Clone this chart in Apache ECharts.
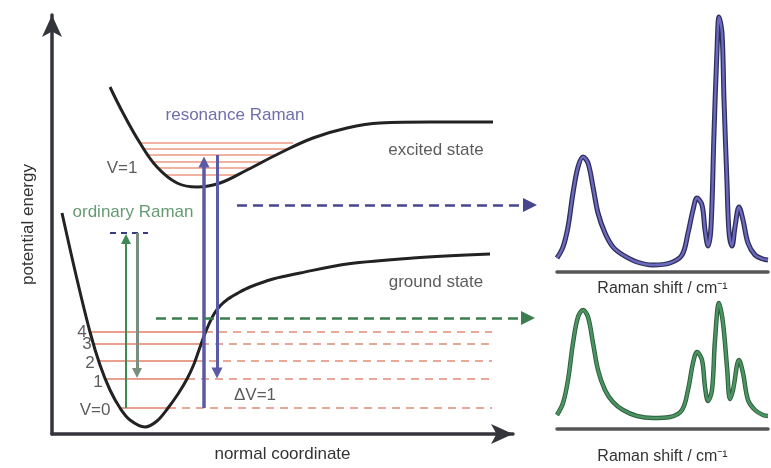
<!DOCTYPE html>
<html><head><meta charset="utf-8">
<script src="https://cdn.jsdelivr.net/npm/echarts@6/dist/echarts.min.js"></script>
<style>html,body{margin:0;padding:0;background:#fff}#c{width:771px;height:468px}</style>
</head><body><div id="c"></div>
<script>
// ---- potential energy diagram (x: normal coordinate, y: potential energy) ----
const groundCurve = [[10,221],[24,159],[38,102],[48,69],[58,44],[68,26],[78,14],[93,7],[105,13],[116,26],[126,40],[135,55],[142,70],[147,84],[152,98],[157,110],[162,120],[168,128],[176,135],[186,141],[198,147],[221,155],[248,161],[295,170],[361,176],[438,180]];
const excitedCurve = [[58,347],[71,321],[88,291],[105,267],[125,251],[145,247],[168,251],[195,264],[228,281],[261,296],[295,306],[328,311],[378,312],[441,312]];
const groundLevelY = [26,55,73,90,102];
const groundLevelLeft = [68,54,46,41,38];
const groundLevelRight = [116,135,143,149,153];
const levelDashEnd = 440;
const excitedLevelY = [291,285,279,272,266,259];
const excitedLevelLeft = [88,92,96,101,106,114];
const excitedLevelRight = [241,237,224,211,199,185];
const virtualLevel = [[58,201],[96,201]];
// transitions: [x, from energy, to energy]
const ordinaryUp = [74,26,195];
const ordinaryDown = [85,201,61];
const resonanceUp = [152,26,272];
const resonanceDown = [165,279,61];
// annotation texts
const labelTexts = ['resonance Raman','excited state','ground state','ordinary Raman','V=1','V=0','1','2','3','4','\u0394V=1'];
const labelPos = [[183,319],[384,284],[384,152],[81,222],[70,266],[43,24],[46,52],[38,71],[35,90],[30,102],[203,39]];
const labelColors = ['#4a4a96','#333','#333','#3f7f4f','#333','#333','#333','#333','#333','#333','#333'];
// ---- spectra (x: Raman shift, y: intensity) ----
const resonanceSpectrum = [[0,14],[6,25],[11,45],[16,79],[21,105],[26,115],[31,109],[36,85],[41,59],[48,39],[56,25],[66,17],[80,10],[96,7],[113,9],[125,17],[131,39],[136,62],[140,74],[145,67],[148,42],[151,26],[154,45],[157,139],[160,222],[162,255],[165,239],[167,172],[170,89],[172,40],[175,26],[178,45],[182,65],[186,52],[191,29],[198,17],[206,13],[211,12]];
const ordinarySpectrum = [[0,14],[6,26],[11,49],[16,86],[21,112],[26,119],[31,112],[36,86],[41,59],[48,39],[56,27],[66,19],[80,13],[96,11],[113,12],[125,19],[131,39],[136,66],[140,77],[145,69],[148,42],[151,28],[155,39],[158,89],[162,126],[166,106],[170,62],[173,30],[176,39],[182,69],[186,56],[191,29],[198,19],[206,14],[211,13]];
// ---- arrows from diagram to spectra (overlay units): [xStart, xEnd, y]
const toResonanceArrow = [237,530,205];
const toOrdinaryArrow = [156,528,318];

const FONT = 'Liberation Sans';
const chart = echarts.init(document.getElementById('c'), null, {renderer:'canvas'});
const series = [];
const g0 = {xAxisIndex:0, yAxisIndex:0};

excitedLevelY.forEach((y,i)=>series.push(Object.assign({type:'line', data:[[excitedLevelLeft[i],y],[excitedLevelRight[i],y]], symbol:'none', silent:true, z:1, lineStyle:{color:'#f1b2a2', width:2}}, g0)));
groundLevelY.forEach((y,i)=>{
  series.push(Object.assign({type:'line', data:[[groundLevelLeft[i],y],[groundLevelRight[i],y]], symbol:'none', silent:true, z:1, lineStyle:{color:'#e9a08e', width:2}}, g0));
  series.push(Object.assign({type:'line', data:[[groundLevelRight[i],y],[levelDashEnd,y]], symbol:'none', silent:true, z:1, lineStyle:{color:'#e8a797', width:2, type:[8,6]}}, g0));
});
series.push(Object.assign({type:'line', data:virtualLevel, symbol:'none', silent:true, lineStyle:{color:'#3a3a80', width:2, type:[6,5]}}, g0));
series.push(Object.assign({type:'line', data:groundCurve, symbol:'none', smooth:0.35, silent:true, z:3, lineStyle:{color:'#222', width:3}}, g0));
series.push(Object.assign({type:'line', data:excitedCurve, symbol:'none', smooth:0.4, silent:true, z:3, lineStyle:{color:'#222', width:3}}, g0));

function vArrow(t, color, headColor, width, head){
  return Object.assign({type:'line', data:[], z:4, markLine:{silent:true, animation:false, symbol:['none','triangle'], symbolSize:head, label:{show:false},
    lineStyle:{color:color, width:width, type:'solid'},
    data:[[{coord:[t[0],t[1]]},{coord:[t[0],t[2]]}]]}}, g0);
}
series.push(vArrow(ordinaryUp,'#3f8a52',null,2,10));
series.push(vArrow(ordinaryDown,'#7a8e80',null,3,10));
series.push(vArrow(resonanceUp,'#5b5aa6',null,3.5,11));
series.push(vArrow(resonanceDown,'#5b5aa6',null,3,11));

series.push(Object.assign({type:'scatter', symbolSize:0, silent:true, z:6,
  label:{show:true, position:'inside', formatter:'{b}', fontFamily:FONT, fontSize:17},
  data:labelTexts.map((t,i)=>({name:t, value:labelPos[i], label:{color:labelColors[i]}}))}, g0));

function hArrow(a, color){
  return {type:'line', xAxisIndex:3, yAxisIndex:3, data:[], z:4, markLine:{silent:true, animation:false, symbol:['none','triangle'], symbolSize:14, label:{show:false},
    lineStyle:{color:color, width:2.5, type:[10,6]},
    data:[[{coord:[a[0],a[2]]},{coord:[a[1],a[2]]}]]}};
}
series.push(hArrow(toResonanceArrow,'#464690'));
series.push(hArrow(toOrdinaryArrow,'#3d7d50'));

series.push({type:'line', xAxisIndex:1, yAxisIndex:1, data:resonanceSpectrum, symbol:'none', smooth:0.35, silent:true, lineStyle:{color:'#2e2e58', width:5}});
series.push({type:'line', xAxisIndex:1, yAxisIndex:1, data:resonanceSpectrum, symbol:'none', smooth:0.35, silent:true, lineStyle:{color:'#6c6ac0', width:2.4}});
series.push({type:'line', xAxisIndex:2, yAxisIndex:2, data:ordinarySpectrum, symbol:'none', smooth:0.35, silent:true, lineStyle:{color:'#2f5e3e', width:4.5}});
series.push({type:'line', xAxisIndex:2, yAxisIndex:2, data:ordinarySpectrum, symbol:'none', smooth:0.35, silent:true, lineStyle:{color:'#4a9462', width:2.6}});

const hidden = {axisTick:{show:false}, axisLabel:{show:false}, splitLine:{show:false}};
const specX = (gi, gap) => Object.assign({gridIndex:gi, type:'value', min:0, max:211,
  axisLine:{show:true, lineStyle:{color:'#555', width:3.5}}, name:'Raman shift / cm\u207B\u00B9', nameLocation:'middle', nameGap:gap,
  nameTextStyle:{color:'#333', fontSize:16, fontFamily:FONT}}, hidden);

chart.setOption({
  animation:false,
  backgroundColor:'#fff',
  grid:[
    {left:52, top:15, width:461, height:419},
    {left:557, top:10, width:211, height:262},
    {left:557, top:290, width:211, height:139},
    {left:0, top:0, width:771, height:468}
  ],
  xAxis:[
    Object.assign({gridIndex:0, type:'value', min:0, max:461,
      axisLine:{show:true, onZero:false, symbol:['none','arrow'], symbolSize:[15,22], lineStyle:{color:'#34343c', width:3.5}},
      name:'normal coordinate', nameLocation:'middle', nameGap:12, nameTextStyle:{color:'#333', fontSize:17, fontFamily:FONT}}, hidden),
    specX(1, 9),
    specX(2, 20),
    {gridIndex:3, type:'value', min:0, max:771, show:false}
  ],
  yAxis:[
    Object.assign({gridIndex:0, type:'value', min:0, max:419,
      axisLine:{show:true, onZero:false, symbol:['none','arrow'], symbolSize:[15,22], lineStyle:{color:'#34343c', width:3.5}},
      name:'potential energy', nameLocation:'middle', nameRotate:90, nameGap:15, nameTextStyle:{color:'#333', fontSize:17, fontFamily:FONT}}, hidden),
    {gridIndex:1, type:'value', min:0, max:262, show:false},
    {gridIndex:2, type:'value', min:0, max:139, show:false},
    {gridIndex:3, type:'value', min:0, max:468, inverse:true, show:false}
  ],
  series:series
});
</script></body></html>
